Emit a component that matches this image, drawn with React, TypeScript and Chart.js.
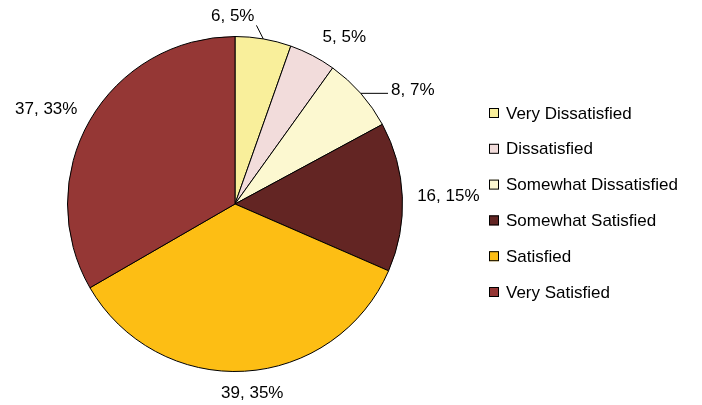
import React, { useEffect, useRef } from "react";
import { Chart, registerables } from "chart.js";

Chart.register(...registerables);

const categories = [
  "Very Dissatisfied",
  "Dissatisfied",
  "Somewhat Dissatisfied",
  "Somewhat Satisfied",
  "Satisfied",
  "Very Satisfied",
];
const counts = [6, 5, 8, 16, 39, 37];
const percentLabels = ["5%", "5%", "7%", "15%", "35%", "33%"];
const colors = ["#F9EF9B", "#F2DCDB", "#FCF8D0", "#632523", "#FDBE14", "#953735"];

// layout tweaks for data label placement (pixels)
const LABEL_RADIUS_EXTRA = 32;
const labelNudge: [number, number][] = [
  [-36, 8],
  [17, 9],
  [28, 17],
  [14, 0],
  [6, -11],
  [-16, 4],
];
const showLeader = [true, false, true, false, false, false];

const FONT = "17px 'Liberation Sans', Arial, sans-serif";

const overlayPlugin = {
  id: "overlay",
  afterDraw(chart: any) {
    const ctx = chart.ctx as CanvasRenderingContext2D;
    const meta = chart.getDatasetMeta(0);
    ctx.save();
    ctx.font = FONT;
    ctx.fillStyle = "#000";
    ctx.textBaseline = "middle";
    ctx.textAlign = "center";
    meta.data.forEach((arc: any, i: number) => {
      const mid = (arc.startAngle + arc.endAngle) / 2;
      const dx = Math.cos(mid);
      const dy = Math.sin(mid);
      const r = arc.outerRadius;
      const tx = arc.x + dx * (r + LABEL_RADIUS_EXTRA) + labelNudge[i][0];
      const ty = arc.y + dy * (r + LABEL_RADIUS_EXTRA) + labelNudge[i][1];
      const text = `${counts[i]}, ${percentLabels[i]}`;
      const w = ctx.measureText(text).width;
      ctx.fillText(text, tx, ty + 1);
      if (showLeader[i]) {
        const ax = arc.x + dx * r;
        const ay = arc.y + dy * r;
        const bx0 = tx - w / 2 - 3;
        const bx1 = tx + w / 2 + 2;
        const by0 = ty - 8;
        const by1 = ty + 10;
        const px = Math.min(Math.max(ax, bx0), bx1);
        const py = Math.min(Math.max(ay, by0), by1);
        ctx.beginPath();
        ctx.strokeStyle = "#000";
        ctx.lineWidth = 1;
        ctx.moveTo(ax, ay);
        ctx.lineTo(px, py);
        ctx.stroke();
      }
    });

    // legend
    const lx = 489;
    const ly0 = 113;
    const step = 35.8;
    ctx.textAlign = "left";
    categories.forEach((c, i) => {
      const y = ly0 + i * step;
      ctx.fillStyle = colors[i];
      ctx.fillRect(lx, y - 5, 10, 10);
      ctx.strokeStyle = "#000";
      ctx.lineWidth = 1;
      ctx.strokeRect(lx + 0.5, y - 4.5, 9, 9);
      ctx.fillStyle = "#000";
      ctx.fillText(c, lx + 17, y + 1);
    });
    ctx.restore();
  },
};

export default function App() {
  const ref = useRef<HTMLCanvasElement | null>(null);
  useEffect(() => {
    if (!ref.current) return;
    const chart = new Chart(ref.current, {
      type: "pie",
      data: {
        labels: categories,
        datasets: [
          {
            data: counts,
            backgroundColor: colors,
            borderColor: "#000",
            borderWidth: 1,
          },
        ],
      },
      options: {
        responsive: false,
        animation: false,
        events: [],
        layout: { padding: { left: 67, right: 299, top: 36, bottom: 33 } },
        plugins: {
          legend: { display: false },
          tooltip: { enabled: false },
        },
      },
      plugins: [overlayPlugin],
    });
    return () => chart.destroy();
  }, []);
  return (
    <div style={{ position: "fixed", left: 0, top: 0, width: 702, height: 405, background: "#fff" }}>
      <canvas ref={ref} width={702} height={405} />
    </div>
  );
}
